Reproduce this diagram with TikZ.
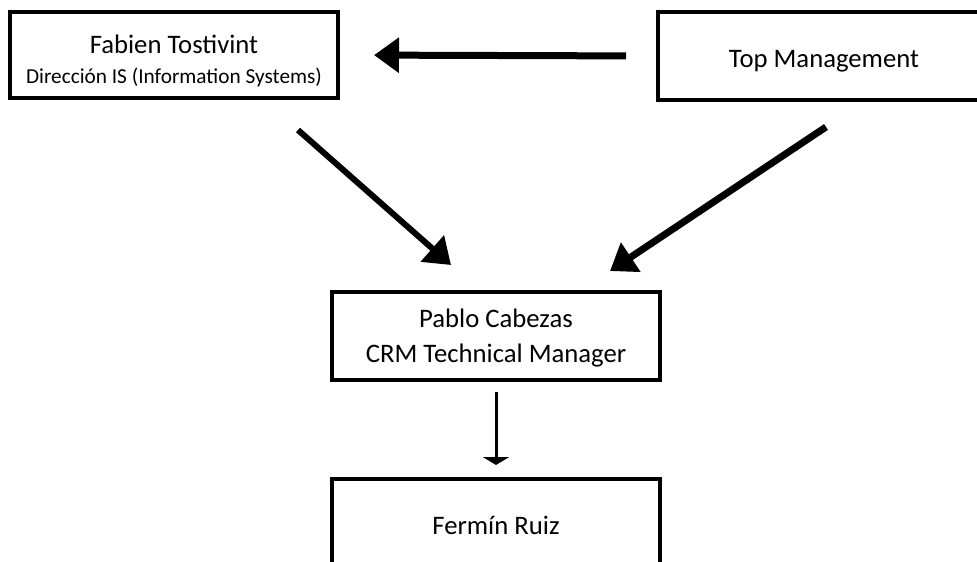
\documentclass[tikz,border=0pt]{standalone}
\usepackage{fontspec}
\setmainfont{Carlito}
\usetikzlibrary{arrows.meta}
\begin{document}
\begin{tikzpicture}[x=1pt,y=-1pt,line join=miter,
	box/.style={draw,line width=4pt,inner sep=0pt,align=center,minimum width=328pt,minimum height=86pt,font=\fontsize{26.7}{35}\selectfont},
	arr/.style={line width=7pt,-{Triangle[width=34pt,length=25pt]}}]
	\useasboundingbox (0,0) rectangle (977,562);
	\node[box,font=\fontsize{26.7}{30}\selectfont] (fabien) at (174,55) {\rule{0pt}{30pt}Fabien Tostivint\\{\fontsize{21.3}{30}\selectfont Dirección IS (Information Systems)}};
	\node[box,minimum height=88pt,minimum width=332pt] (top) at (824,56) {\rule{0pt}{28pt}Top Management};
	\node[box,minimum height=88pt] (pablo) at (496,336) {\rule{0pt}{22pt}Pablo Cabezas\\CRM Technical Manager};
	\node[box,minimum height=88pt] (fermin) at (496,523) {\rule{0pt}{23pt}Fermín Ruiz};
	% arrows
	\draw[arr,shorten <=30pt,shorten >=34pt] (top.west) -- (fabien.east);
	\draw[arr,line width=6pt] ([xshift=-42pt,yshift=-30pt]fabien.south east) -- ([xshift=121pt,yshift=25pt]pablo.north west);
	\draw[arr,line width=7pt] ([xshift=170pt,yshift=-25pt]top.south west) -- ([xshift=-52pt,yshift=19pt]pablo.north east);
	\draw[line width=3pt,-{Triangle[width=26pt,length=8pt]},shorten <=10pt,shorten >=12pt] (pablo.south) -- (fermin.north);
\end{tikzpicture}
\end{document}
